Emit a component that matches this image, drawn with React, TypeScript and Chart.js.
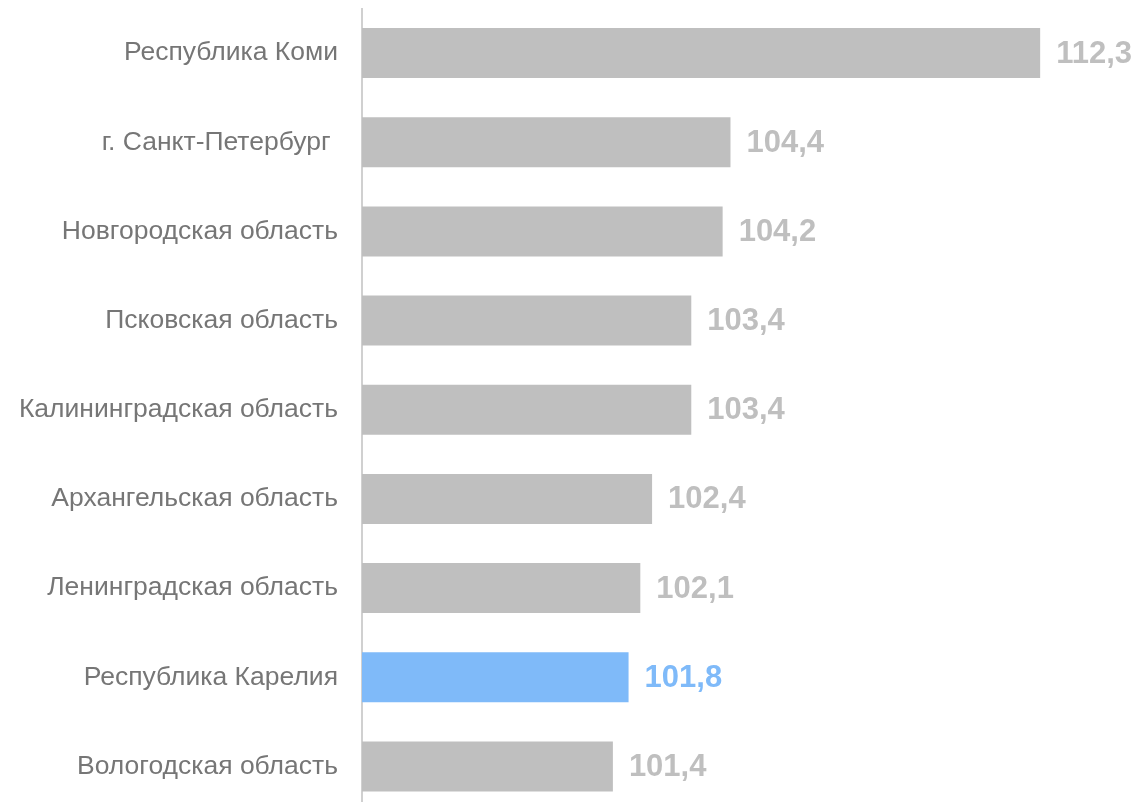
import React, { useEffect, useRef } from "react";
import { Chart, registerables } from "chart.js";

Chart.register(...registerables);

const categories = [
  "Республика Коми",
  "г. Санкт-Петербург ",
  "Новгородская область",
  "Псковская область",
  "Калининградская область",
  "Архангельская область",
  "Ленинградская область",
  "Республика Карелия",
  "Вологодская область",
];
const values = [112.3, 104.4, 104.2, 103.4, 103.4, 102.4, 102.1, 101.8, 101.4];
const highlight = "Республика Карелия";

const GRAY = "#bfbfbf";
const BLUE = "#7fbaf9";
const FONT = "'Liberation Sans', Arial, sans-serif";

const valueLabels = {
  id: "valueLabels",
  afterDatasetsDraw(chart: any) {
    const ctx = chart.ctx;
    const meta = chart.getDatasetMeta(0);
    ctx.save();
    ctx.font = `bold 31px ${FONT}`;
    ctx.textAlign = "left";
    ctx.textBaseline = "middle";
    meta.data.forEach((bar: any, i: number) => {
      ctx.fillStyle = categories[i] === highlight ? BLUE : GRAY;
      ctx.fillText(values[i].toFixed(1).replace(".", ","), bar.x + 16, bar.y + 1);
    });
    ctx.restore();
  },
};

export default function App() {
  const ref = useRef<HTMLCanvasElement>(null);
  useEffect(() => {
    if (!ref.current) return;
    const chart = new Chart(ref.current, {
      type: "bar",
      data: {
        labels: categories,
        datasets: [
          {
            data: values,
            backgroundColor: categories.map((c) => (c === highlight ? BLUE : GRAY)),
            barPercentage: 0.56,
            categoryPercentage: 1,
          },
        ],
      },
      options: {
        indexAxis: "y",
        responsive: false,
        animation: false,
        layout: { padding: { top: 8.5, right: 12.6, left: 0, bottom: 0 } },
        plugins: { legend: { display: false }, tooltip: { enabled: false } },
        scales: {
          x: { display: false, min: 95, max: 114.5 },
          y: {
            afterFit: (s: any) => {
              s.width = 362;
              s.paddingTop = 0;
              s.paddingBottom = 0;
            },
            grid: { display: false, drawTicks: false },
            border: { display: true, color: "#d0d0d0", width: 2 },
            ticks: {
              padding: 24,
              color: "#767676",
              font: { family: FONT, size: 26.5 },
            },
          },
        },
      },
      plugins: [valueLabels],
    });
    return () => chart.destroy();
  }, []);
  return (
    <div style={{ position: "fixed", left: 0, top: 0, width: 1139, height: 802, overflow: "hidden", background: "#fff" }}>
      <canvas ref={ref} width={1139} height={811} style={{ display: "block" }} />
    </div>
  );
}
